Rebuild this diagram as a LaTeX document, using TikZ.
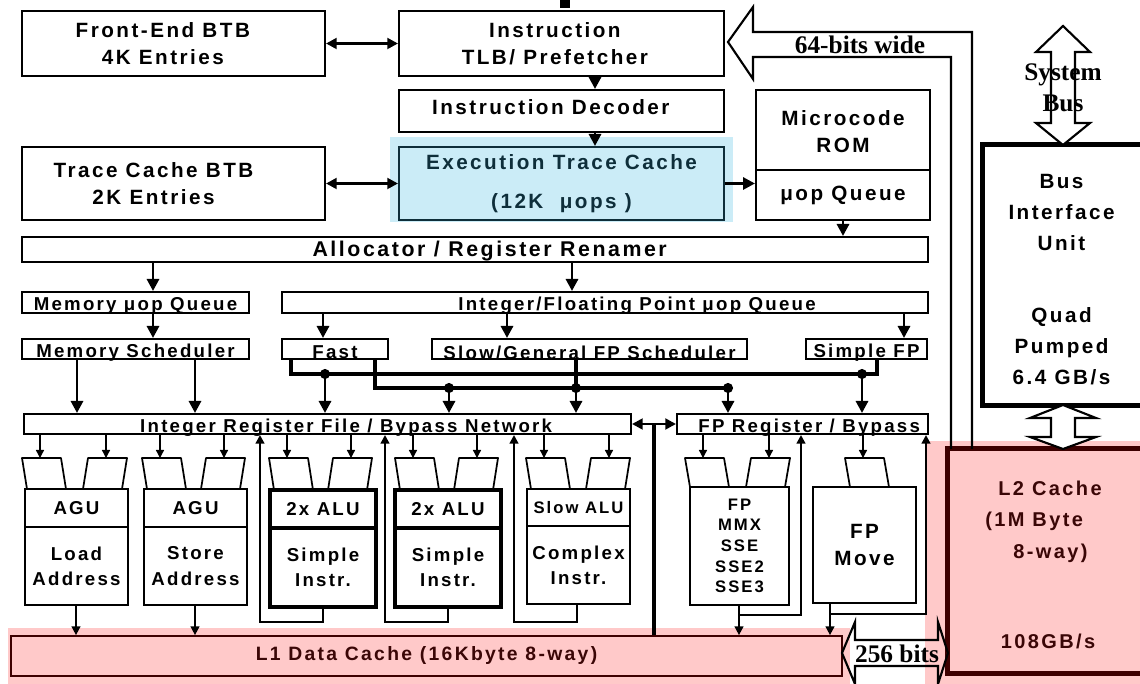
\documentclass[tikz,border=0pt]{standalone}
\usepackage{fontspec}
\setmainfont{Liberation Sans}
\newfontfamily\lblfont[LetterSpace=12]{Liberation Sans}
\newfontfamily\serfont{Liberation Serif}
\usetikzlibrary{arrows.meta,calc}
\definecolor{ink}{HTML}{000000}
\definecolor{cachebg}{HTML}{FFC9C9}
\definecolor{cacheink}{HTML}{3A0606}
\definecolor{cacheedge}{HTML}{3D0000}
\definecolor{tracebg}{HTML}{CBECF7}
\definecolor{traceink}{HTML}{0E2E3A}
\newcommand{\low}[2][-2.6pt]{\raisebox{#1}[\height][\depth]{#2}}

\begin{document}
\begin{tikzpicture}[
  x=0.75pt,y=-0.75pt,
  cell/.style n args={4}{at={($(#1,#2)!.5!(#3,#4)$)},
    minimum width={(#3-#1)*0.75pt},minimum height={(#4-#2)*0.75pt}},
  box/.style={draw=ink,line width=1.5pt,inner sep=0pt,align=center,text=ink,
    font=\lblfont\bfseries\fontsize{15.5}{20}\selectfont},
  sbox/.style={box,font=\lblfont\bfseries\fontsize{14}{17}\selectfont},
  ubox/.style={box,font=\lblfont\bfseries\fontsize{14}{19}\selectfont},
  hbox/.style={ubox,line width=3.4pt},
  cache/.style={draw=cacheedge,fill=cachebg,inner sep=0pt,text=cacheink,
    font=\lblfont\bfseries\fontsize{14.5}{19}\selectfont},
  cachetext/.style={text=cacheink,inner sep=0pt,font=\lblfont\bfseries\fontsize{15}{24}\selectfont},
  arrow/.style={-{Triangle[length=9pt,width=9pt]},line width=2.2pt,draw=ink},
  twoway/.style={{Triangle[length=8pt,width=8pt]}-{Triangle[length=8pt,width=8pt]},line width=2.2pt,draw=ink},
  feed/.style={-{Triangle[length=6pt,width=6pt]},line width=1pt,draw=ink},
  drop/.style={-{Triangle[length=6.5pt,width=6.5pt]},line width=1.3pt,draw=ink},
  ret/.style={-{Triangle[length=6.5pt,width=6.5pt]},line width=1.8pt,draw=ink},
  bus/.style={line width=2.4pt,draw=ink},
  wide/.style={draw=ink,line width=1.6pt,line join=miter},
  wtext/.style={font=\serfont\bfseries\fontsize{19}{23}\selectfont,text=ink,inner sep=0pt,align=center}
]
\useasboundingbox (0,0) rectangle (1140,684);

% tinted areas
\fill[cachebg] (8,628) rectangle (850,684);
\fill[cachebg] (925,441) rectangle (1140,684);
\fill[tracebg] (390,137) rectangle (733,222);
\fill[ink] (560,0) rectangle (570,8);

% front end
\node[box,cell={22}{11}{325}{76}] (febtb) {Front-End BTB\hspace*{16pt}\\4K Entries\hspace*{16pt}};
\node[box,cell={399}{11}{724}{76}] (itlb) {Instruction\hspace*{10pt}\\TLB/ Prefetcher\hspace*{10pt}};
\node[box,cell={399}{90}{724}{132}] (idec) {\low[3pt]{Instruction Decoder\hspace*{16pt}}};
\node[box,cell={399}{147}{724}{220},draw=traceink,text=traceink] (etc) {Execution Trace Cache\\[9pt](12K\ \ μops )};
\node[box,cell={22}{147}{325}{220}] (tcbtb) {Trace Cache BTB\hspace*{30pt}\\2K Entries\hspace*{30pt}};
\node[box,cell={756}{90}{930}{170}] (mrom) {\low[-3pt]{\begin{tabular}{@{}c@{}}Microcode\\ROM\end{tabular}}};
\node[box,cell={756}{170}{930}{220}] (uopq) {μop Queue};

\draw[twoway] (febtb.east) -- (itlb.west);
\draw[twoway] (tcbtb.east) -- (etc.west);
\draw[arrow] (itlb.south -| 595,0) -- (idec.north -| 595,0);
\draw[arrow] (idec.south -| 595,0) -- (etc.north -| 595,0);
\draw[arrow] (etc.east) -- (etc.east -| uopq.west);

% allocation and queues
\node[box,cell={22}{237}{928}{262},font=\lblfont\bfseries\fontsize{16}{20}\selectfont] (alloc) {\low[-1pt]{\hspace*{22pt}Allocator / Register Renamer}};
\draw[arrow] (uopq.south) -- (uopq.south |- alloc.north);
\node[sbox,cell={22}{292}{249}{313}] (memq) {\low{Memory μop Queue}};
\node[sbox,cell={282}{292}{928}{313}] (ifq) {\low{\hspace*{48pt}Integer/Floating Point μop Queue}};
\node[sbox,cell={22}{339}{249}{359}] (memsch) {\low{Memory Scheduler}};
\node[sbox,cell={282}{339}{388}{359}] (fast) {\low{Fast}};
\node[sbox,cell={432}{339}{747}{359}] (slowsch) {\low{Slow/General FP Scheduler}};
\node[sbox,cell={806}{339}{927}{359}] (sfp) {\low{Simple FP}};
\draw[arrow] (alloc.south -| 153,0) -- (memq.north -| 153,0);
\draw[arrow] (alloc.south -| 572,0) -- (ifq.north -| 572,0);
\draw[arrow] (memq.south -| 153,0) -- (memsch.north -| 153,0);
\draw[arrow] (ifq.south -| 323,0) -- (fast.north -| 323,0);
\draw[arrow] (ifq.south -| 507,0) -- (slowsch.north -| 507,0);
\draw[arrow] (ifq.south -| 904,0) -- (sfp.north -| 904,0);

% register files
\node[sbox,cell={24}{414}{631}{434}] (irf) {\low{\hspace*{28pt}Integer Register File / Bypass Network}};
\node[sbox,cell={677}{414}{928}{434}] (fprf) {\low{\hspace*{10pt}FP Register / Bypass}};
\draw[arrow] (memsch.south -| 77,0) -- (irf.north -| 77,0);
\draw[arrow] (memsch.south -| 195,0) -- (irf.north -| 195,0);
\draw[twoway] (irf.east) -- (fprf.west);

% dispatch buses
\coordinate (j1) at (325,374);
\coordinate (j2) at (862,374);
\coordinate (j3) at (449,388);
\coordinate (j4) at (576,388);
\coordinate (j5) at (728,388);
\draw[bus] (fast.south -| 291,0) |- (j2) -| (sfp.south -| 877,0);
\draw[bus] (fast.south -| 375,0) |- (j5);
\draw[bus] (slowsch.south -| j4) -- (j4);
\foreach \j in {j1,j2,j3,j4,j5} \fill[ink] (\j) circle (3.8pt);
\foreach \j in {j1,j3,j4} \draw[arrow] (\j) -- (irf.north -| \j);
\foreach \j in {j2,j5} \draw[arrow] (\j) -- (fprf.north -| \j);

% execution units
\node[ubox,cell={25}{489}{128}{527}] (agu1) {AGU};
\node[ubox,cell={25}{527}{128}{605}] (load) {Load\\Address};
\node[ubox,cell={144}{489}{247}{527}] (agu2) {AGU};
\node[ubox,cell={144}{527}{247}{605}] (store) {Store\\Address};
\node[hbox,cell={270}{490}{376}{528}] (alu1) {2x ALU};
\node[hbox,cell={270}{528}{376}{607}] (simp1) {Simple\\Instr.};
\node[hbox,cell={395}{490}{501}{528}] (alu2) {2x ALU};
\node[hbox,cell={395}{528}{501}{607}] (simp2) {Simple\\Instr.};
\node[ubox,cell={527}{489}{630}{526},font=\lblfont\bfseries\fontsize{12.5}{15}\selectfont] (slowalu) {Slow ALU};
\node[ubox,cell={527}{526}{630}{604}] (cplx) {Complex\\Instr.};
\node[ubox,cell={690}{487}{789}{605},font=\lblfont\bfseries\fontsize{12.5}{15.5}\selectfont] (fpu) {FP\\MMX\\SSE\\SSE2\\SSE3};
\node[box,cell={813}{487}{916}{603}] (fpmove) {FP\\Move};

% input muxes
\foreach \x/\d/\b/\s in {40/5/489/irf, 106/-5/489/irf, 160/5/489/irf, 224/-5/489/irf,
    287/5/490/irf, 351/-5/490/irf, 413/5/490/irf, 477/-5/490/irf,
    544/5/489/irf, 609/-5/489/irf, 703/5/487/fprf, 769/-5/487/fprf, 863/5/487/fprf}{
  \draw[line width=1.3pt,line join=round] (\x-18+\d,\b) -- (\x-18,458) -- (\x+21,458) -- (\x+21+\d,\b);
  \draw[feed] (\s.south -| \x,0) -- (\x,458);
}

% write-back loops
\draw[ret] (simp1.south -| 323,0) -- (323,622) -| (irf.south -| 260,0);
\draw[ret] (simp2.south -| 448,0) -- (448,622) -| (irf.south -| 385,0);
\draw[ret] (cplx.south -| 577,0) -- (577,622) -| (irf.south -| 514,0);
\coordinate (fpj) at (739,615);
\coordinate (mvj) at (830,614);
\draw[ret] (fpj) -| (fprf.south -| 801,0);
\draw[ret] (mvj) -| (fprf.south -| 926,0);

% L1 data cache
\node[cache,cell={11}{636}{842}{676},line width=1.3pt] (l1) {L1 Data Cache (16Kbyte 8-way)};
\draw[drop] (load.south -| 76,0) -- (l1.north -| 76,0);
\draw[drop] (store.south -| 195,0) -- (l1.north -| 195,0);
\draw[drop] (fpu.south -| fpj) -- (l1.north -| fpj);
\draw[drop] (fpmove.south -| mvj) -- (l1.north -| mvj);
\draw[bus] (l1.north -| 654,0) -- (654,424);

% bus interface and L2
\node[cell={983}{145}{1140}{405},inner sep=0pt,align=center,text=ink,
  font=\lblfont\bfseries\fontsize{15.5}{23.3}\selectfont] (biu) {\low[-4pt]{\begin{tabular}{@{}c@{}}Bus\\Interface\\Unit\\[31pt]Quad\\Pumped\\6.4 GB/s\end{tabular}}};
\draw[line width=3.4pt,ink] (biu.north east) -- (biu.north west) -- (biu.south west) -- (biu.south east);
\node[cell={948}{449}{1140}{673},fill=cachebg,inner sep=0pt] (l2) {};
\draw[line width=3.4pt,cacheedge] (l2.north east) -- (l2.north west) -- (l2.south west) -- (l2.south east);
\node[cachetext] (l2name) at (1050,488) {L2 Cache};
\node[cachetext,anchor=west,align=left] (l2size) at (985,537) {(1M Byte\\\hspace*{1.4em}8-way)};
\node[cachetext] (l2bw) at (1048,641) {108GB/s};

% wide paths
\draw[wide] (951,449) -- (951,57) -- (753,57) -- (753,79) -- (728,42) -- (753,7) -- (753,32) -- (972,32) -- (972,449);
\node[wtext] (bw64) at (860,45) {64-bits wide};
\draw[wide,fill=white] (1063,26) -- (1090,52) -- (1075,52) -- (1075,123) -- (1090,123) -- (1063,145)
  -- (1036,123) -- (1051,123) -- (1051,52) -- (1036,52) -- cycle;
\node[wtext] (sysbus) at (1063,88) {System\\Bus};
\draw[wide,fill=white] (1063,405) -- (1096,418) -- (1075,418) -- (1075,437) -- (1096,437) -- (1063,449)
  -- (1030,437) -- (1051,437) -- (1051,418) -- (1030,418) -- cycle;
\draw[wide] (842,653) -- (855,622) -- (855,640) -- (938,640) -- (938,622) -- (948,653)
  -- (938,684) -- (938,666) -- (855,666) -- (855,684) -- cycle;
\node[wtext] (bw256) at (897,654) {256 bits};
\end{tikzpicture}
\end{document}
